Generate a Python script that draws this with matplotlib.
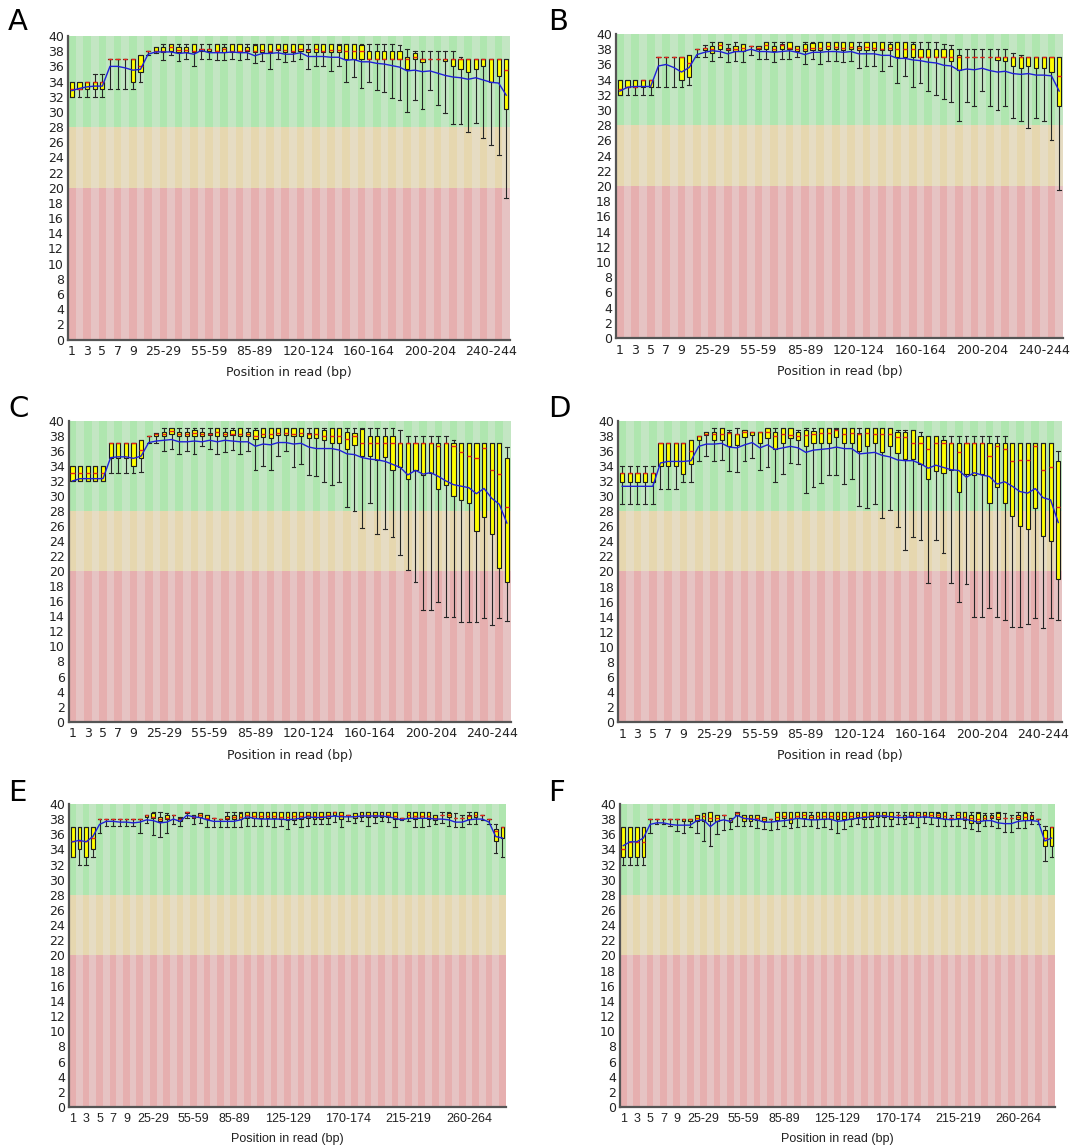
import numpy as np
import matplotlib
matplotlib.use("Agg")
import matplotlib.pyplot as plt

# -------------------- data: per-bin quality stats --------------------
# A-D: 58 bins (1..9, 10-14 ... 245-249, 250-251); E-F: 65 bins (1..9, 10-14 ... 285-289)

a_low = [32, 32, 32, 32, 32, 33, 33, 33, 33, 34, 37.5, 37.8, 36.8, 37.5, 36.7, 37, 36, 37, 37, 36.8,
         36.8, 37, 36.8, 37, 36.4, 36.7, 35.7, 37, 36.6, 36.7, 37, 35.6, 36, 36, 35.4, 36, 33.9, 34.6, 33.2, 33.9,
         32.9, 32.6, 31.8, 31.6, 30, 31.6, 30.4, 32.9, 30.9, 29.8, 28.4, 28.4, 27.4, 28.5, 26.6, 25.6, 24.3, 18.6]
a_q1 = [32, 33, 33, 33, 33, 37, 37, 37, 34, 35.3, 38, 38, 37.9, 38, 37.9, 37.9, 37.9, 38, 38, 38,
        37.9, 37.9, 37.9, 38, 37.9, 37.9, 37.9, 38.1, 37.9, 37.9, 38, 37.9, 37.9, 37.9, 37.9, 37.9, 37, 37, 37, 37,
        37, 37, 37, 37, 35.6, 37, 36.6, 37, 37, 36.7, 36.1, 35.6, 35.3, 35.7, 36.1, 33.9, 34.7, 30.4]
a_med = [33, 33, 34, 34, 34, 37, 37, 37, 37, 36, 38, 38, 38, 38.5, 38.2, 38.1, 38, 38.3, 38.3, 38,
         38.3, 38, 38, 38.2, 38, 38.2, 38, 38.3, 38.1, 38, 38.3, 38.2, 38.3, 38, 38.1, 38.1, 38, 38, 38, 37,
         37, 37, 37, 37, 37, 37.2, 37, 37, 37, 37, 37, 37, 37, 37, 37, 37, 37, 35.5]
a_q3 = [34, 34, 34, 34, 34, 37, 37, 37, 37, 37.5, 38, 38.5, 38.6, 39, 38.6, 38.6, 39, 38.3, 38.3, 39,
        38.6, 38.9, 39, 38.5, 38.8, 39, 39, 39, 39, 39, 39, 38.3, 39, 39, 39, 38.8, 39, 39, 38.8, 38,
        38, 38, 38, 38, 37.3, 37.7, 37, 37, 37, 37, 37, 37, 37, 37, 37, 37, 37, 37]
a_high = [34, 34, 34, 35, 35, 37, 37, 37, 37, 37.5, 38, 38.5, 39, 39, 39, 39, 39, 39, 39, 39,
          39, 39, 39, 39, 39, 39, 39, 39, 39, 39, 39, 39, 39, 39, 39, 39, 39, 39, 39, 39,
          39, 39, 39, 38.8, 38.3, 38, 38, 38, 38, 38, 38, 37.2, 37, 37, 37, 37, 37, 37]
a_mean = [32.8, 33.1, 33.3, 33.4, 33.4, 36.0, 36.0, 35.8, 35.5, 35.6, 37.6, 37.9, 37.9, 37.9, 37.7, 37.8, 37.6, 38.1, 37.8, 37.8,
          37.8, 37.9, 37.8, 37.8, 37.4, 37.7, 37.7, 37.8, 37.6, 37.6, 37.8, 37.3, 37.3, 37.3, 37.2, 37.2, 36.8, 36.9, 36.6, 36.6,
          36.4, 36.3, 36.1, 35.9, 35.4, 35.5, 35.3, 35.4, 35.1, 34.8, 34.6, 34.5, 34.3, 34.5, 34.2, 33.9, 33.8, 32.2]

b_low = [32, 32, 32, 32, 32, 33, 33, 33, 33, 33.3, 37, 37, 36.5, 37, 36.3, 36.5, 36.3, 37.3, 36.7, 36.7,
         36.3, 36.7, 36.7, 37, 36, 36.7, 36, 36.5, 36.5, 36.3, 36.5, 35.5, 35.8, 35.8, 35.2, 35.8, 33.5, 34.5, 33, 33.5,
         32.5, 32, 31.5, 31, 28.5, 31, 30.5, 32.5, 30.5, 30, 30.5, 29, 28.5, 27.7, 29, 28.5, 26, 19.5]
b_q1 = [32, 33, 33, 33, 33, 37, 37, 37, 34, 34.4, 38, 37.9, 37.5, 38, 37.9, 37.8, 37.8, 38.4, 38, 38,
        37.8, 38, 38, 37.8, 37.8, 37.9, 37.9, 38, 38, 37.9, 38, 37.9, 37.9, 37.9, 37.9, 37.9, 37, 37, 37, 37,
        37, 37, 37, 36.5, 35.3, 37, 37, 37, 37, 36.6, 36.5, 35.8, 35.5, 35.8, 35.5, 35.5, 35, 30.5]
b_med = [32.8, 33, 33, 34, 34, 37, 37, 37, 37, 36.2, 38, 38.2, 38, 38.5, 38, 38, 38.2, 38.4, 38.2, 38.5,
         38, 38.5, 38.2, 38, 38, 38.2, 38.2, 38.4, 38.3, 38.2, 38.3, 38.2, 38.3, 38.2, 38.1, 38.2, 38, 38, 38, 37,
         37, 37, 37, 37, 37, 37, 37, 37, 37, 37, 37, 37, 37, 37, 37, 37, 37, 34.5]
b_q3 = [34, 34, 34, 34, 34, 37, 37, 37, 37, 37.3, 38, 38.2, 38.4, 38.9, 38.2, 38.4, 38.7, 38.4, 38.4, 38.9,
        38.4, 38.7, 38.9, 38.4, 38.7, 38.8, 38.9, 38.9, 38.9, 38.9, 38.9, 38.4, 38.9, 38.9, 38.9, 38.7, 38.9, 38.9, 38.7, 38,
        38, 38, 38, 38, 37.3, 37, 37, 37, 37, 37, 37, 37, 37, 37, 37, 37, 37, 37]
b_high = [34, 34, 34, 34, 34, 37, 37, 37, 37, 37.3, 38, 38.5, 38.9, 38.9, 38.7, 38.9, 38.7, 38.4, 38.4, 38.9,
          38.9, 38.9, 38.9, 38.4, 38.9, 38.9, 38.9, 38.9, 38.9, 38.9, 38.9, 38.9, 38.9, 38.9, 38.9, 38.9, 38.9, 38.9, 38.9, 38.9,
          38.9, 38.9, 38.7, 38.5, 38, 38, 38, 38, 38, 38, 38, 37.5, 37.2, 37, 37, 37, 37, 37]
b_mean = [32.5, 33.0, 33.1, 33.1, 33.1, 35.8, 36.0, 35.6, 35.0, 35.6, 37.3, 37.6, 37.8, 37.7, 37.4, 37.7, 37.7, 38.0, 37.7, 37.7,
          37.6, 37.7, 37.8, 37.6, 37.3, 37.6, 37.6, 37.7, 37.7, 37.6, 37.7, 37.4, 37.4, 37.4, 37.2, 37.2, 36.8, 36.8, 36.6, 36.5,
          36.3, 36.2, 35.9, 35.8, 35.2, 35.4, 35.3, 35.5, 35.2, 35.0, 35.1, 34.8, 34.7, 34.8, 34.6, 34.6, 34.5, 32.5]

c_low = [32, 32, 32, 32, 32, 33, 33, 33, 33, 33.2, 37, 37, 36, 36.3, 35.6, 36, 35.6, 36.6, 36.3, 35.6,
         35.9, 36.1, 35.6, 36, 33.5, 34, 33.4, 35.3, 36, 33.8, 34.2, 32.8, 32.6, 31.9, 31.5, 31.8, 28.5, 28, 25.8, 29.1,
         24.9, 25.6, 24.6, 22.2, 20.2, 18.5, 14.8, 14.8, 15.9, 13.9, 13.9, 13.3, 13.2, 13.2, 13.8, 12.9, 13.8, 13.4]
c_q1 = [32, 32, 32, 32, 32, 35, 35, 35, 34, 35, 38, 38, 38, 38.2, 38, 38, 38, 38, 38.1, 38,
        38, 38.1, 38, 38, 37.6, 37.8, 37.7, 38.1, 38.1, 38, 38, 37.7, 37.7, 37.4, 37, 37, 36.3, 36.8, 35.3, 35.3,
        34.8, 35.2, 33.4, 33.8, 32.3, 33.4, 32.8, 33.0, 30.9, 31.5, 30, 29.5, 29.1, 25.3, 27.2, 24.9, 20.4, 18.5]
c_med = [33, 33, 33, 33, 33, 37, 37, 37, 37, 36.1, 38, 38.2, 38.2, 38.6, 38.2, 38.2, 38.4, 38.2, 38.2, 38.5,
         38.2, 38.3, 38.2, 38.2, 38, 38.3, 38.2, 38.4, 38.4, 38.3, 38.4, 38.2, 38.2, 38, 38, 38, 37.6, 38, 37.1, 37.1,
         37.1, 37.1, 37.1, 37.1, 37.1, 37.1, 37.1, 37.1, 36.7, 37.1, 36.7, 35.8, 35.3, 35.0, 36.4, 33.5, 32.9, 28.5]
c_q3 = [34, 34, 34, 34, 34, 37, 37, 37, 37, 37.4, 38, 38.4, 38.5, 39, 38.5, 38.5, 38.8, 38.5, 38.4, 39,
        38.5, 38.8, 39, 38.5, 38.8, 39, 39, 39, 39, 39, 39, 38.4, 39, 38.8, 39, 39, 38.5, 38.4, 38.9, 38,
        38, 38, 38, 37.1, 37.1, 37.1, 37.1, 37.1, 37.1, 37.1, 37.1, 37.1, 37.1, 37.1, 37.1, 37.1, 37.1, 35]
c_high = [34, 34, 34, 34, 34, 37, 37, 37, 37, 37.4, 38, 38.4, 39, 39, 39, 39, 39, 39, 39, 39,
          39, 39, 39, 39, 39, 39, 39, 39, 39, 39, 39, 39, 39, 39, 39, 39, 39, 39, 39, 39,
          39, 39, 39, 38.8, 38, 38, 38, 38, 38, 38, 37.5, 37.1, 37.1, 37.1, 37.1, 37.1, 37.1, 36.5]
c_mean = [32.0, 32.3, 32.3, 32.3, 32.3, 35.1, 35.2, 35.2, 35.0, 35.3, 37.1, 37.3, 37.4, 37.5, 37.2, 37.2, 37.3, 37.2, 37.4, 37.2,
          37.4, 37.3, 37.2, 37.2, 36.6, 36.9, 36.8, 37.1, 37.1, 36.9, 37.0, 36.5, 36.3, 36.3, 36.3, 36.1, 35.6, 35.5, 35.1, 34.9,
          34.8, 34.6, 34.2, 33.8, 32.8, 33.4, 32.9, 33.1, 32.6, 32.0, 31.5, 31.3, 31.1, 30.3, 31.0, 29.7, 28.9, 26.4]

d_low = [29, 29, 29, 29, 29, 31, 31, 31, 31.9, 31.9, 34.6, 35.3, 34.7, 34.8, 33.3, 33.2, 34.7, 35, 33.5, 33.8,
         31.9, 32.9, 34.4, 34.2, 30.4, 31.2, 31.8, 32.8, 32.8, 31.6, 32.3, 28.7, 28.4, 29, 27.1, 28.2, 25.9, 22.9, 24.6, 24.2,
         18.5, 24.2, 22.5, 18.5, 16, 18.3, 13.9, 13.9, 15.2, 13.9, 13.5, 12.7, 12.7, 13.1, 13.8, 12.5, 13.8, 13.5]
d_q1 = [31.9, 31.9, 31.9, 31.9, 31.9, 34, 34, 34, 32.9, 34.2, 37.4, 38.1, 37.4, 37.4, 36.6, 36.8, 37.8, 38.1, 37, 37.7,
        36.3, 37.1, 37.7, 37.4, 36.6, 37, 37.1, 37.0, 37.8, 37.1, 37, 36, 36.6, 37.1, 35.8, 36.7, 35.7, 34.9, 34.9, 34.3,
        32.3, 33.3, 33.1, 33.5, 30.6, 32.9, 32.8, 32.9, 29.1, 31.2, 29.1, 27.4, 26.1, 25.6, 28.4, 24.7, 24.1, 19]
d_med = [33, 33, 33, 33, 33, 37.1, 37.1, 37.1, 37.1, 36, 38, 38.3, 38.2, 38.2, 38.4, 38.2, 38.5, 38.5, 38.5, 38.5,
         38, 38.2, 38.1, 38, 38.1, 38.3, 38.4, 38.4, 38.8, 38.2, 38.4, 38.3, 38.4, 38.2, 38.2, 38.2, 37.9, 37.9, 37.1, 37.1,
         36.3, 37.1, 37.1, 37.1, 35.8, 37.1, 37.1, 37.1, 35.3, 36.7, 36.3, 34.7, 34.8, 34.8, 36.7, 33.5, 33.8, 28.5]
d_q3 = [33, 33, 33, 33, 33, 37.1, 37.1, 37.1, 37.1, 37.4, 38, 38.5, 38.5, 39, 38.5, 38.2, 38.8, 38.5, 38.5, 39,
        38.5, 39, 39, 38.5, 38.8, 38.6, 39, 39, 38.9, 39, 39, 38.4, 39, 39, 39, 39, 38.5, 38.5, 38.8, 38,
        38, 38, 37.4, 37.1, 37.1, 37.1, 37.1, 37.1, 37.1, 37.1, 37.1, 37.1, 37.1, 37.1, 37.1, 37.1, 37.1, 34.6]
d_high = [34, 34, 34, 34, 34, 37.1, 37.1, 37.1, 37.1, 37.4, 38, 38.5, 39, 39, 38.8, 39, 38.8, 38.5, 38.5, 39,
          39, 39, 39, 38.8, 39, 39, 39, 39, 39, 39, 39, 39, 39, 39, 39, 39, 38.8, 38.8, 38.8, 38.5,
          38, 38, 38, 38, 38, 38, 38, 38, 38, 38, 38, 37.1, 37.1, 37.1, 37.1, 37.1, 37.1, 36]
d_mean = [31.3, 31.3, 31.3, 31.3, 31.3, 34.4, 34.6, 34.6, 34.6, 34.7, 36.6, 36.9, 36.9, 37.0, 36.5, 36.4, 36.8, 37.1, 36.4, 36.8,
          36.2, 36.4, 36.6, 36.4, 35.8, 36.1, 36.2, 36.3, 36.5, 36.3, 36.3, 35.6, 35.7, 35.8, 35.4, 35.2, 34.8, 34.7, 34.7, 34.3,
          33.7, 34.1, 33.8, 33.5, 33.4, 32.5, 33.1, 32.8, 32.6, 31.6, 31.9, 31.3, 30.6, 30.4, 31.0, 29.8, 29.5, 26.5]

e_low = [33, 32, 32, 33, 36.2, 37.1, 37.1, 37.1, 37.1, 37.1, 36.2, 37.5, 35.9, 35.7, 36.2, 37.3, 37.1, 38.1, 37.3, 37.5,
         37, 37, 37, 37, 37, 37, 37.1, 37.1, 37.1, 37.1, 37, 37.1, 36.7, 37.4, 37, 37.1, 37.3, 37.4, 37.4, 37.6,
         37, 37.7, 37.5, 37.7, 37.1, 37.5, 37.7, 37.6, 37, 37.9, 37.8, 37, 37, 37.1, 37.4, 37.5, 37.1, 36.9, 37, 37.3,
         37.4, 37.9, 37.3, 33.5, 33]
e_q1 = [33, 34.1, 33, 34.1, 38, 38, 38, 38, 38, 38, 38, 38.3, 38.1, 37.7, 38, 38.6, 37.7, 38.8, 38.1, 38.3,
        38, 38.1, 38, 38, 38, 38, 38.1, 38.1, 38.1, 38.1, 38.1, 38, 37.9, 37.9, 38, 38.1, 38, 38, 38.1, 38.6,
        38, 38.6, 38.1, 38.3, 38.3, 38.3, 38.3, 38.3, 38, 38.1, 38.1, 38, 38.1, 38, 37.9, 38.5, 38.3, 38.1, 38.1, 38,
        38.3, 38.6, 38, 35.1, 35.5]
e_med = [35.1, 35.1, 35.1, 35.5, 38, 38, 38, 38, 38, 38, 38, 38.6, 38.3, 38, 38.2, 38.6, 38, 39, 38.3, 38.6,
         38.2, 38.1, 38, 38.2, 38.3, 38.3, 38.5, 38.4, 38.4, 38.4, 38.4, 38.3, 38.3, 38.4, 38.4, 38.6, 38.4, 38.4, 38.6, 39,
         38.6, 38.6, 38.4, 38.6, 38.6, 38.6, 38.6, 38.5, 38.4, 38.1, 38.6, 38.4, 38.4, 38.4, 38.1, 38.5, 38.6, 38.1, 38.1, 38.4,
         38.6, 38.6, 38, 36.4, 37]
e_q3 = [37, 37, 37, 37, 38, 38, 38, 38, 38, 38, 38, 38.6, 38.8, 38.3, 38.6, 38.6, 38.1, 39, 38.6, 38.8,
        38.6, 38.1, 38, 38.4, 38.6, 38.8, 39, 39, 39, 39, 39, 39, 39, 39, 39, 39, 39, 39, 39, 39,
        39, 38.6, 38.8, 39, 39, 39, 39, 38.9, 38.9, 38.1, 39, 39, 39, 39, 38.6, 38.5, 38.8, 38.1, 38.1, 38.6,
        39, 38.6, 38, 36.7, 37]
e_high = [37, 37, 37, 37, 38, 38, 38, 38, 38, 38, 38, 38.6, 39, 39, 38.8, 38.6, 38.3, 39, 38.6, 38.8,
          38.6, 38.1, 38, 39, 39, 39, 39, 39, 39, 39, 39, 39, 39, 39, 39, 39, 39, 39, 39, 39,
          39, 38.6, 38.8, 39, 39, 39, 39, 39, 39, 38.1, 39, 39, 39, 39, 38.6, 38.9, 38.9, 38.8, 38.6, 39,
          39, 38.6, 38, 37.3, 37]
e_mean = [35.0, 35.2, 35.0, 35.7, 37.3, 37.7, 37.7, 37.6, 37.6, 37.5, 37.6, 37.9, 37.8, 37.5, 37.6, 38.0, 37.7, 38.5, 38.3, 38.2,
          37.9, 37.7, 37.7, 37.7, 37.7, 37.9, 38.3, 38.1, 38.0, 38.0, 38.0, 38.0, 37.9, 38.0, 38.1, 38.3, 38.2, 38.2, 38.3, 38.4,
          38.3, 38.3, 38.3, 38.4, 38.4, 38.4, 38.4, 38.3, 38.1, 37.9, 38.1, 38.1, 38.1, 38.1, 38.0, 38.0, 37.9, 37.6, 37.6, 37.9,
          38.0, 38.0, 37.6, 35.7, 35.5]

f_low = [32, 32, 32, 32, 36.2, 37.3, 37.3, 37.1, 36.4, 36.2, 37.0, 36.2, 35.1, 34.4, 36, 36.6, 36.7, 37.1, 37.1, 37.1,
         36.8, 36.7, 36.5, 36.7, 37.1, 36.8, 37, 37.1, 37.1, 36.8, 36.9, 36.7, 36.2, 36.7, 37.1, 37.3, 37, 37, 37.1, 37.1,
         37.1, 37.3, 37.3, 37.5, 37, 37.5, 37.3, 37.1, 37.1, 37.1, 37.1, 36.8, 36.7, 36.4, 37.1, 37.1, 36.8, 36.3, 36.3, 36.8,
         36.8, 37.3, 37.3, 32.5, 33]
f_q1 = [33, 33, 33, 33, 38, 38, 38, 38, 38, 37.7, 37.7, 37.7, 37.8, 37.7, 37.7, 38.6, 37.6, 38.6, 37.8, 37.8,
        37.9, 37.8, 38, 37.9, 38.1, 37.5, 38.1, 38.1, 38, 38, 38, 38, 38, 38, 38, 38.3, 38, 38, 38.3, 38.3,
        38, 38.6, 38, 38.3, 38.3, 38.3, 38.3, 38.3, 38, 38.1, 38.1, 37.9, 37.5, 37.5, 37.9, 38.1, 38, 38.1, 38.1, 38,
        37.9, 38, 38, 34.4, 34.5]
f_med = [34, 35, 35, 35, 38, 38, 38, 38, 38, 38, 38, 38.1, 38.4, 38.2, 38.1, 38.6, 37.9, 38.8, 38.1, 38.1,
         38.2, 38, 38, 38.3, 38.4, 38.2, 38.4, 38.5, 38.3, 38.4, 38.4, 38.4, 38.4, 38.4, 38.4, 38.6, 38.4, 38.5, 38.6, 38.6,
         38.4, 38.6, 38.3, 38.6, 38.6, 38.6, 38.6, 38.6, 38.4, 38.1, 38.5, 38.3, 38.1, 38, 38.2, 38.3, 38.3, 38.1, 38.1, 38.3,
         38.3, 38.4, 38, 35.5, 37]
f_q3 = [37, 37, 37, 37, 38, 38, 38, 38, 38, 38, 38, 38.6, 38.8, 39, 38.6, 38.6, 38.1, 39, 38.6, 38.6,
        38.6, 38.3, 38, 39, 39, 39, 39, 39, 38.6, 39, 39, 39, 39, 39, 39, 39, 39, 39, 39, 39,
        39, 38.6, 38.6, 39, 39, 39, 39, 38.8, 39, 38.1, 39, 38.9, 38.6, 38.8, 38.6, 38.6, 38.8, 38.1, 38.1, 38.6,
        38.8, 38.6, 38, 36.6, 37]
f_high = [37, 37, 37, 37, 38, 38, 38, 38, 38, 38, 38, 38.6, 38.8, 39, 38.6, 38.6, 38.1, 39, 38.6, 38.6,
          38.6, 38.3, 38, 39, 39, 39, 39, 39, 39, 39, 39, 39, 39, 39, 39, 39, 39, 39, 39, 39,
          39, 38.9, 38.9, 39, 39, 39, 39, 38.9, 39, 38.6, 39, 39, 39, 39, 38.8, 38.8, 39, 38.8, 38.6, 38.9,
          39, 38.9, 38, 37.1, 37]
f_mean = [34.5, 35.0, 35.0, 35.5, 37.3, 37.5, 37.5, 37.3, 37.2, 37.2, 37.2, 37.8, 37.9, 37.0, 37.7, 37.9, 37.7, 38.5, 38.1, 38.0,
          37.9, 37.6, 37.6, 37.7, 37.8, 37.9, 38.1, 38.0, 37.9, 37.9, 38.0, 38.0, 37.7, 37.8, 38.0, 38.1, 38.2, 38.3, 38.4, 38.4,
          38.3, 38.2, 38.2, 38.3, 38.2, 38.3, 38.2, 38.1, 38.0, 37.9, 38.0, 38.0, 37.8, 37.6, 37.8, 37.8, 37.5, 37.4, 37.4, 37.7,
          37.8, 37.8, 37.7, 35.1, 35.5]

# which bin labels are printed on the x axis
ticks_250 = ["1", "3", "5", "7", "9", "25-29", "55-59", "85-89", "120-124", "160-164", "200-204", "240-244"]
ticks_290 = ["1", "3", "5", "7", "9", "25-29", "55-59", "85-89", "125-129", "170-174", "215-219", "260-264"]


def bin_labels(n_bins, last):
    labels = [str(i) for i in range(1, 10)]
    s = 10
    while len(labels) < n_bins - 1:
        labels.append(f"{s}-{s + 4}")
        s += 5
    labels.append(last)
    return labels


# -------------------- drawing --------------------
zones = [(0, 20, "#e6afaf", "#e6c3c3"),
         (20, 28, "#e6d7af", "#e6dcc3"),
         (28, 40, "#afe6af", "#c3e6c3")]


def draw_panel(ax, low, q1, med, q3, high, mean, all_labels, shown, narrow=False):
    n = len(mean)
    x = np.arange(n)
    for lo, hi, c_dark, c_light in zones:
        cols = [c_dark if i % 2 == 0 else c_light for i in x]
        ax.bar(x, hi - lo, bottom=lo, width=1.0, color=cols, linewidth=0, zorder=0)

    stats = [dict(med=m, q1=a, q3=b, whislo=lo, whishi=hi)
             for lo, a, m, b, hi in zip(low, q1, med, q3, high)]
    ax.bxp(stats, positions=x, widths=0.55, showfliers=False, patch_artist=True,
           manage_ticks=False, capwidths=0.5,
           boxprops=dict(facecolor="#ffff00", edgecolor="#1a1a1a", linewidth=0.8),
           medianprops=dict(color="#e8261a", linewidth=1.0, zorder=4),
           whiskerprops=dict(color="#262626", linewidth=0.8),
           capprops=dict(color="#262626", linewidth=0.8))
    ax.plot(x, mean, color="#2020d8", linewidth=1.0, zorder=5)

    ax.set_xlim(-0.5, n - 0.5)
    ax.set_ylim(0, 40)
    ax.set_yticks(range(0, 41, 2))
    pos = [all_labels.index(s) for s in shown]
    ax.set_xticks(pos)
    if narrow:
        # the lower pair uses a narrower face in the original
        ax.set_xticklabels(shown, fontsize=9, family="Liberation Sans")
        ax.set_xlabel("Position in read (bp)", fontsize=9, color="#222222", labelpad=6,
                      family="Liberation Sans")
    else:
        ax.set_xticklabels(shown, fontsize=9)
        ax.set_xlabel("Position in read (bp)", fontsize=9, color="#222222", labelpad=6)
    ax.tick_params(axis="both", length=0, pad=3, colors="#222222", labelsize=9)
    ax.tick_params(axis="x", pad=4)
    for side in ("top", "right"):
        ax.spines[side].set_visible(False)
    for side in ("left", "bottom"):
        ax.spines[side].set_color("#555555")
        ax.spines[side].set_linewidth(1.6)


fig = plt.figure(figsize=(10.7, 11.47), dpi=100)

labels_250 = bin_labels(58, "250-251")
labels_290 = bin_labels(65, "285-289")

panels = [
    ("A", [0.0636, 0.7040, 0.4131, 0.2646], (a_low, a_q1, a_med, a_q3, a_high, a_mean), labels_250, ticks_250, False),
    ("B", [0.5757, 0.7053, 0.4178, 0.2650], (b_low, b_q1, b_med, b_q3, b_high, b_mean), labels_250, ticks_250, False),
    ("C", [0.0642, 0.3708, 0.4131, 0.2624], (c_low, c_q1, c_med, c_q3, c_high, c_mean), labels_250, ticks_250, False),
    ("D", [0.5779, 0.3703, 0.4147, 0.2629], (d_low, d_q1, d_med, d_q3, d_high, d_mean), labels_250, ticks_250, False),
    ("E", [0.0648, 0.0349, 0.4079, 0.2642], (e_low, e_q1, e_med, e_q3, e_high, e_mean), labels_290, ticks_290, True),
    ("F", [0.5794, 0.0349, 0.4065, 0.2642], (f_low, f_q1, f_med, f_q3, f_high, f_mean), labels_290, ticks_290, True),
]
letter_pos = {"A": (8, 30), "B": (548, 30), "C": (8, 417), "D": (548, 417), "E": (8, 801), "F": (548, 801)}

for name, rect, data, labs, shown, narrow in panels:
    ax = fig.add_axes(rect)
    draw_panel(ax, *data, labs, shown, narrow=narrow)
    px, py = letter_pos[name]
    fig.text(px / 1070, 1 - py / 1147, name, fontsize=21, ha="left", va="baseline", color="black")

fig.savefig("out.png", dpi=100)
